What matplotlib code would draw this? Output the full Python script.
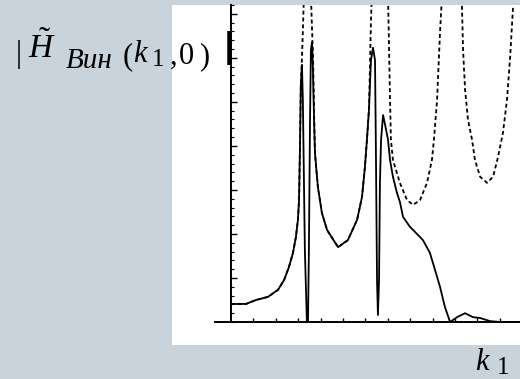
import numpy as np
import matplotlib
matplotlib.use("Agg")
import matplotlib.pyplot as plt
from matplotlib.patches import Rectangle
from matplotlib.ticker import MultipleLocator

plt.rcParams['mathtext.fontset'] = 'custom'
plt.rcParams['mathtext.rm'] = 'Liberation Serif'
plt.rcParams['mathtext.it'] = 'Liberation Serif:italic'
plt.rcParams['font.family'] = 'Liberation Serif'

nan = np.nan

# damped response |H_Вин(k1, 0)| (solid)
k_solid = [0, 0.67, 1.12, 1.65, 2.10, 2.37, 2.59, 2.77, 2.90, 2.99, 3.04, 3.08, 3.12,
           3.17, 3.21, 3.30, 3.39, 3.44, 3.48, 3.53, 3.57, 3.62, 3.66, 3.71, 3.75,
           3.88, 4.06, 4.29, 4.78, 5.22, 5.63, 5.85, 5.98, 6.07, 6.16, 6.25, 6.34,
           6.43, 6.47, 6.52, 6.56, 6.61, 6.65, 6.70, 6.79, 6.88, 7.01, 7.10, 7.23,
           7.41, 7.54, 7.68, 7.99, 8.13, 8.57, 8.88, 9.11, 9.33, 9.55, 9.78, 10.09,
           10.45, 10.80, 11.12, 11.56, 12.01, 12.90]
h_solid = [0.41, 0.41, 0.50, 0.57, 0.73, 0.95, 1.25, 1.57, 1.93, 2.32, 2.77, 3.91, 5.39,
           5.84, 5.05, 1.64, 0, 0, 1.64, 4.59, 6.18, 6.36, 5.73, 4.59, 3.84,
           3.07, 2.48, 2.09, 1.70, 1.86, 2.32, 2.84, 3.52, 4.14, 4.82, 5.95, 6.23,
           5.95, 3.91, 0.95, 0.16, 0.95, 3.16, 4.14, 4.70, 4.48, 4.14, 3.68, 3.30,
           2.93, 2.73, 2.39, 2.16, 2.09, 1.86, 1.57, 1.18, 0.80, 0.34, 0, 0.11,
           0.20, 0.11, 0.09, 0.02, 0, 0]

# undamped response (dashed), branches split at the resonances
k_dash = [0, 0.67, 1.12, 1.65, 2.10, 2.37, 2.59, 2.77, 2.90, 2.99, 3.04, 3.08, 3.12, 3.17, 3.21, 3.26, nan,
          3.57, 3.62, 3.66, 3.71, 3.75, 3.88, 4.06, 4.29, 4.78, 5.22, 5.63, 5.85, 5.98, 6.07, 6.16, 6.21, 6.25, 6.29, nan,
          7.01, 7.05, 7.10, 7.14, 7.23, 7.54, 7.86, 8.13, 8.44, 8.75, 8.97, 9.06, 9.20, 9.33, 9.42, nan,
          10.27, 10.31, 10.36, 10.45, 10.58, 10.76, 10.89, 11.12, 11.43, 11.70, 11.92, 12.14, 12.32, 12.46, 12.59, 12.63]
h_dash = [0.41, 0.41, 0.50, 0.57, 0.73, 0.95, 1.25, 1.57, 1.93, 2.32, 2.77, 3.91, 5.39, 6.0, 6.6, 7.43, nan,
          7.43, 6.64, 6.11, 4.80, 3.84, 3.07, 2.48, 2.09, 1.70, 1.86, 2.32, 2.84, 3.52, 4.14, 4.82, 5.95, 6.86, 7.43, nan,
          7.43, 6.41, 5.05, 4.14, 3.68, 3.16, 2.77, 2.66, 2.77, 3.16, 3.68, 4.14, 5.05, 6.57, 7.43, nan,
          7.43, 7.16, 6.18, 5.27, 4.59, 4.14, 3.68, 3.30, 3.16, 3.30, 3.75, 4.30, 5.05, 6.02, 7.16, 7.43]

W, H = 520, 379
fig = plt.figure(figsize=(W / 100, H / 100), dpi=100)
fig.patch.set_facecolor('#c8d3db')
fig.add_artist(Rectangle((172/W, 34/H), 348/W, 340/H, transform=fig.transFigure,
                         facecolor='white', edgecolor='none', zorder=0))

ax = fig.add_axes([215/W, 57/H, 305/W, 317/H])
ax.patch.set_visible(False)
ax.plot(k_dash, h_dash, color='black', lw=1.3, dashes=(2.2, 1.6))
ax.plot(k_solid, h_solid, color='black', lw=1.3)
ax.set_xlim(-0.71, 12.9)
ax.set_ylim(0, 7.2)

ax.spines['left'].set_position(('data', 0))
ax.spines['top'].set_visible(False)
ax.spines['right'].set_visible(False)
for s in ('left', 'bottom'):
    ax.spines[s].set_linewidth(1.4)

ax.set_xticks(range(1, 13))
ax.set_yticks(range(1, 8))
ax.yaxis.set_minor_locator(MultipleLocator(0.2))
ax.tick_params(axis='x', direction='in', length=3, width=1, labelbottom=False)
ax.tick_params(axis='y', which='major', direction='in', length=4, width=1, labelleft=False)
ax.tick_params(axis='y', which='minor', direction='in', length=2.5, width=0.8)


def put(s, x, y, size, italic=False, **kw):
    fig.text(x / W, 1 - y / H, s, fontsize=size, va='baseline',
             style='italic' if italic else 'normal', **kw)


# y label |H~_Вин(k1,0)|, spread out like the original typesetting
put('|', 16, 62, 22)
put(r'$\tilde{H}$', 28, 58, 24)
put('Вин', 66, 68, 21, True)
put('(', 123, 64, 22)
put('k', 133, 62, 22, True)
put('1', 152, 66, 18)
put(',', 170, 64, 22)
put('0', 179, 64, 22)
put(')', 199, 64, 22)
put('|', 223, 57, 24, fontweight='bold', family='DejaVu Sans')

# x label k1
put('k', 475, 370, 22, True)
put('1', 497, 374, 18)

fig.savefig('out.png', dpi=100, facecolor=fig.get_facecolor())
